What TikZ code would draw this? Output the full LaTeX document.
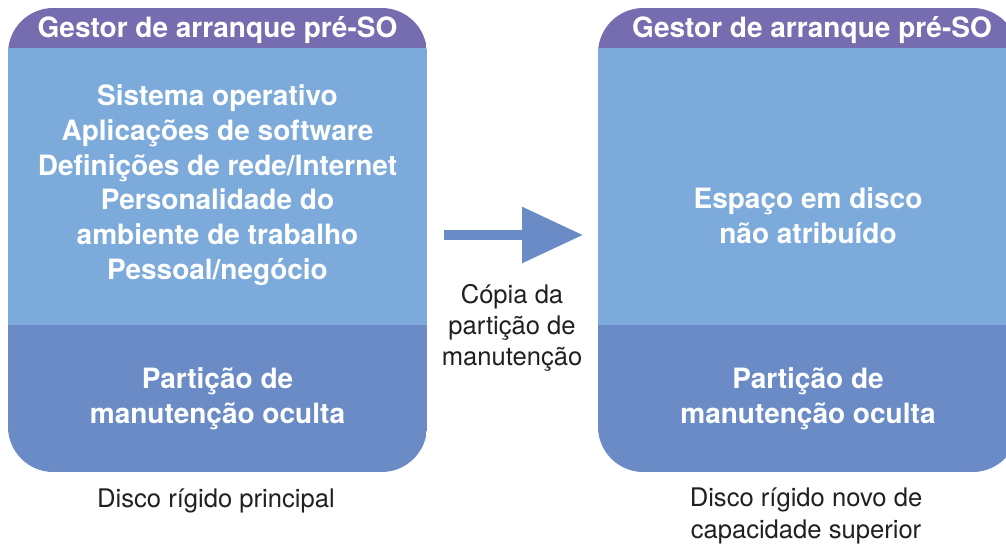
\documentclass[tikz,border=0pt]{standalone}
\usepackage{fontspec}
\setmainfont{TeX Gyre Heros}
\usepackage{tikz}
\usetikzlibrary{arrows.meta,positioning}
\usepackage{xcolor}
\definecolor{bootpurple}{RGB}{118,108,176}
\definecolor{diskblue}{RGB}{123,170,219}
\definecolor{partblue}{RGB}{107,139,199}
\definecolor{captiongray}{RGB}{35,31,32}

\begin{document}
\begin{tikzpicture}[x=0.75pt,y=-0.75pt,
  inbox/.style={text=white, font=\bfseries\fontsize{21}{26}\selectfont, align=center},
  caption/.style={text=captiongray, font=\fontsize{19.2}{23.5}\selectfont, align=center},
  flow/.style={partblue, line width=7pt, -{Triangle[length=45.75pt,width=40.5pt]}}]
  \useasboundingbox (0,0) rectangle (1006,546);
  % old disk
  \begin{scope}
    \clip[rounded corners=34pt] (8,8) rectangle (427,472);
    \fill[bootpurple] (8,8) rectangle (427,48);
    \fill[diskblue] (8,48) rectangle (427,325);
    \fill[partblue] (8,325) rectangle (427,472);
  \end{scope}
  % new disk
  \begin{scope}
    \clip[rounded corners=34pt] (598,8) rectangle (1018,472);
    \fill[bootpurple] (598,8) rectangle (1018,48);
    \fill[diskblue] (598,48) rectangle (1018,325);
    \fill[partblue] (598,325) rectangle (1018,472);
  \end{scope}
  \node[inbox] (oldboot) at (217.5,30) {Gestor de arranque pré-SO};
  \node[inbox] (oldsys) at (217.5,185) {Sistema operativo\\Aplicações de software\\Definições de rede/Internet\\Personalidade do\\ambiente de trabalho\\Pessoal/negócio};
  \node[inbox] (oldpart) at (217.5,399) {Partição de\\manutenção oculta};
  \node[caption] (oldcap) at (216,501) {Disco rígido principal};
  \node[inbox] (newboot) at (812,30) {Gestor de arranque pré-SO};
  \node[inbox] (newfree) at (808,216) {Espaço em disco\\não atribuído};
  \node[inbox] (newpart) at (808,399) {Partição de\\manutenção oculta};
  \node[caption] (newcap) at (806,516) {Disco rígido novo de\\capacidade superior};
  % copy arrow
  \coordinate (copyfrom) at (444,235);
  \coordinate (copyto) at (583,235);
  \draw[flow] (copyfrom) -- (copyto);
  \node[caption] (copylbl) at (512,328) {Cópia da\\partição de\\manutenção};
\end{tikzpicture}
\end{document}
